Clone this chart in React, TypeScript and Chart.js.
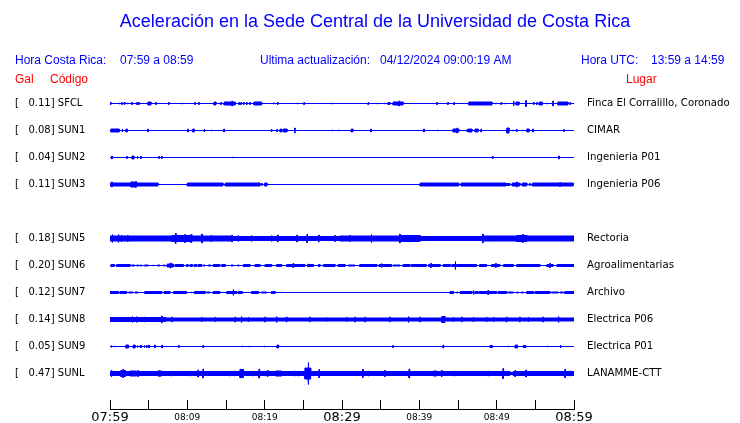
import React, { useEffect, useRef } from 'react';
import { Chart, registerables } from 'chart.js';

Chart.register(...registerables);

// ---------- texts ----------
const TITLE = 'Aceleración en la Sede Central de la Universidad de Costa Rica';
const HORA_CR = ['Hora Costa Rica:', '07:59 a 08:59'];
const ACTUALIZACION = ['Ultima actualización:', '04/12/2024 09:00:19 AM'];
const HORA_UTC = ['Hora UTC:', '13:59 a 14:59'];
const COL_HEADERS = ['Gal', 'Código', 'Lugar'];

// ---------- stations ----------
const STATIONS = ['SFCL', 'SUN1', 'SUN2', 'SUN3', 'SUN5', 'SUN6', 'SUN7', 'SUN8', 'SUN9', 'SUNL'];
const SLOTS = [0, 1, 2, 3, 5, 6, 7, 8, 9, 10];
const PEAK_GAL = [0.11, 0.08, 0.04, 0.11, 0.18, 0.2, 0.12, 0.14, 0.05, 0.47];
const PLACES = [
  'Finca El Corralillo, Coronado',
  'CIMAR',
  'Ingenieria P01',
  'Ingenieria P06',
  'Rectoria',
  'Agroalimentarias',
  'Archivo',
  'Electrica P06',
  'Electrica P01',
  'LANAMME-CTT',
];

// ---------- time axis (minutes after 07:59) ----------
const X_TICKS = [0, 5, 10, 15, 20, 25, 30, 35, 40, 45, 50, 55, 60];
const X_TICK_LABELS = ['07:59', '', '08:09', '', '08:19', '', '08:29', '', '08:39', '', '08:49', '', '08:59'];
const MAJOR_TICKS = [0, 30, 60];

// ---------- trace envelopes: [t, amp] spike or [t0, t1, amp] burst ----------
const SFCL_BURSTS = [
  [0.1, 1.5], [1.2, 1], [1.55, 1.5], [1.9, 1.5], [2.3, 1], [2.85, 1.5], [3.5, 1.5], [3.75, 1.5],
  [4.9, 5.3, 2], [5.95, 1.5], [7.6, 1.5], [9.3, 1], [10.0, 1], [11.0, 1.5], [11.5, 1.5],
  [13.45, 13.7, 2], [14.35, 1.5], [14.75, 16.2, 2], [15.8, 3], [16.7, 1.5], [16.95, 1.5],
  [17.3, 1.5], [17.7, 1.5], [18.1, 1.5], [18.6, 19.6, 2], [21.1, 1], [21.35, 1], [21.7, 1.5],
  [24.3, 1], [25.1, 1.5], [28.7, 1],
  [33.4, 1.5], [34.65, 1], [35.55, 1], [35.95, 36.2, 1.5], [36.6, 37.9, 2], [37.4, 3],
  [42.3, 1.5], [43.7, 1.5], [44.5, 1.5], [46.4, 49.4, 2], [49.9, 1], [50.6, 1.5], [51.1, 1],
  [52.2, 3], [52.5, 52.9, 2], [53.8, 3.5], [54.8, 1.5], [55.2, 1.5], [55.5, 55.9, 2], [56.5, 1],
  [57.3, 3], [57.9, 59.2, 2], [59.5, 1.5],
];
const SUN1_BURSTS = [
  [0.1, 1.2, 2], [1.6, 2], [2.1, 2], [2.2, 2], [4.9, 2], [10.1, 2], [10.7, 10.9, 2], [12.2, 2],
  [13.1, 1], [14.75, 2], [19.7, 1], [20.9, 2], [21.6, 1.5], [22.0, 22.2, 2], [22.4, 22.9, 2],
  [23.9, 3], [28.8, 1], [29.6, 1],
  [31.2, 31.4, 2], [33.75, 2], [40.6, 2], [42.4, 1], [44.35, 45.1, 2], [44.9, 3], [46.2, 1.5],
  [46.3, 46.8, 2], [47.2, 47.6, 2], [48.0, 2], [51.3, 51.6, 3], [52.1, 1], [52.6, 1.5],
  [53.4, 1], [53.9, 54.2, 2], [54.7, 2], [58.7, 1.5],
];
const SUN2_BURSTS = [
  [0.25, 2], [2.2, 1.5], [2.85, 3.1, 2], [3.5, 3.6, 2], [4.0, 1.5], [6.35, 1.5], [6.7, 1.5],
  [15.9, 1], [49.5, 1.5], [58.0, 58.1, 2],
];
const SUN3_BURSTS = [
  [0, 6.2, 2], [0.25, 3], [2.7, 3.2, 3], [3.35, 3.5], [10.0, 14.6, 2], [14.9, 19.4, 2],
  [19.65, 1.5], [20.0, 20.3, 2], [40.1, 45.1, 2], [45.4, 51.2, 2], [51.3, 51.7, 1.5],
  [52.0, 53.0, 2], [52.6, 3], [53.3, 53.9, 2], [54.3, 1.5], [54.6, 59.9, 2], [58.2, 2.5],
];
const SUN5_BURSTS = [
  [0, 7.1, 3], [0.3, 4.5], [1.1, 4.5], [1.5, 4], [2.3, 3.5], [7.1, 8.0, 3], [8.0, 10.6, 3.5],
  [8.5, 5.5], [9.7, 4.5], [10.5, 4.5], [10.6, 15.8, 3], [11.9, 5], [13.1, 3.5], [15.8, 4],
  [15.8, 29.7, 2.5], [16.6, 3.5], [18.3, 3.5], [20.9, 3.5], [21.7, 4], [24.2, 4], [25.5, 4.5],
  [27.0, 4], [29.1, 3.5],
  [29.7, 37.5, 3], [31.0, 3.5], [33.8, 4.5], [37.5, 5], [37.5, 40.1, 3.5], [38.8, 4],
  [40.1, 48.2, 2.5], [48.2, 5], [48.2, 52.6, 3], [52.6, 53.9, 3.5], [53.4, 4.5], [53.9, 60, 3],
];
const SUN6_BURSTS = [
  [0.13, 0.56, 1.5], [0.86, 2.6, 1.5], [2.8, 3.2, 1], [3.45, 3.7, 1], [3.9, 4.1, 1],
  [4.45, 4.95, 1], [5.6, 1], [6.15, 6.45, 1], [6.9, 7.1, 1], [7.4, 8.2, 2], [7.85, 3],
  [8.4, 9.5, 1.5], [9.9, 10.1, 1.5], [10.35, 10.65, 1.5], [10.9, 11.2, 1.5], [11.4, 11.85, 1.5],
  [12.05, 12.3, 1], [12.7, 13.05, 1], [13.35, 14.2, 1.5], [14.45, 14.9, 1.5], [15.65, 15.95, 1],
  [16.5, 16.7, 1], [17.25, 18.1, 1.5], [18.75, 19.4, 1.5], [20.05, 20.9, 1.5], [21.55, 22.2, 1.5],
  [22.85, 25.2, 1.5], [23.7, 2.5], [25.6, 2], [25.65, 26.3, 1.5], [26.95, 27.15, 1.5],
  [27.6, 29.1, 1.5], [29.5, 30.4, 1.5],
  [30.8, 31.7, 1], [32.3, 34.5, 1.5], [34.8, 36.4, 1.5], [35.1, 2.5], [36.6, 37.5, 1],
  [37.9, 38.8, 1.5], [39.0, 40.9, 1.5], [41.2, 42.7, 1.5], [41.5, 2.5], [43.1, 44.0, 1.5],
  [44.2, 44.6, 1.5], [44.66, 4.5], [44.8, 47.4, 1.5], [47.8, 48.7, 1.5], [49.35, 50.4, 1.5],
  [49.9, 2.5], [50.9, 52.15, 1.5], [52.6, 55.6, 1.5], [56.5, 57.3, 1.5], [56.9, 2.5],
  [57.8, 60, 1.5], [59.05, 2],
];
const SUN7_BURSTS = [
  [0, 1.1, 1.5], [1.3, 2.15, 1.5], [2.4, 3.0, 1], [3.25, 3.65, 1], [4.5, 6.7, 1.5],
  [7.0, 7.75, 1.5], [8.2, 9.9, 1.5], [10.5, 1], [10.9, 12.3, 1.5], [12.5, 12.95, 1],
  [13.35, 14.2, 1.5], [15.1, 16.4, 1.5], [15.95, 3.5], [16.6, 17.1, 1.5], [18.3, 19.2, 1.5],
  [19.6, 20.25, 1], [20.9, 21.35, 1.5],
  [43.96, 44.4, 1.5], [44.8, 45.0, 1], [45.3, 46.8, 1.5], [47.0, 2.5], [47.2, 47.6, 1.5],
  [47.75, 50.0, 1.5], [48.9, 2.5], [49.6, 2], [50.2, 51.3, 1.5], [51.5, 52.2, 1],
  [52.6, 52.8, 1], [53.2, 53.45, 1], [53.9, 54.74, 1.5], [54.95, 56.9, 1.5], [57.1, 58.0, 1],
  [58.2, 58.6, 1], [58.8, 60, 1.5],
];
const SUN8_BURSTS = [
  [0, 7.2, 2.5], [7.2, 60, 2], [0.45, 3], [2.9, 3.5], [3.45, 3.5], [4.5, 3], [5.8, 3], [6.7, 4],
  [8.0, 3], [11.85, 3], [13.6, 2.5], [16.2, 3], [17.0, 3.5], [17.9, 3], [20.05, 3], [21.55, 3.5],
  [22.85, 3], [25.85, 3], [28.0, 2.5],
  [30.6, 3], [31.7, 3], [33.0, 3], [36.2, 3], [38.6, 3.5], [40.1, 3], [42.9, 43.3, 3.5],
  [44.4, 3], [45.5, 3], [47.0, 3], [48.7, 3], [49.6, 3], [51.3, 3], [53.0, 3], [54.1, 3],
  [56.0, 3], [58.0, 3.5],
];
const SUN9_BURSTS = [
  [0.2, 1.5], [0.65, 1], [0.95, 1], [2.05, 2.4, 2], [3.0, 3.25, 2], [3.55, 1.5], [3.9, 4.1, 1.5],
  [4.45, 1.5], [4.75, 1.5], [5.05, 2], [5.8, 2], [6.4, 1], [6.75, 2], [7.55, 1], [8.9, 1.5],
  [12.05, 1.5], [17.1, 1], [18.0, 1], [19.2, 1], [19.95, 1], [21.6, 21.8, 2], [36.6, 1.5],
  [43.1, 2], [45.7, 1], [49.15, 49.45, 1.5], [51.5, 1], [52.4, 52.7, 2], [53.45, 53.75, 1.5],
  [56.6, 1], [58.2, 58.3, 2],
];
const SUNL_BURSTS = [
  [0, 51.7, 2.5], [51.7, 52.15, 1.5], [52.15, 60, 2.5], [0.2, 4], [1.4, 2.0, 3.5], [1.7, 4.5],
  [2.6, 3.45, 3], [3.65, 3.5], [6.15, 6.7, 3], [6.4, 3.5], [7.9, 3], [9.25, 3], [10.35, 3],
  [10.8, 3], [11.4, 4], [12.05, 5], [15.5, 3], [16.15, 3], [16.8, 17.25, 4.5], [16.95, 5],
  [18.5, 3], [19.3, 5], [20.05, 3], [20.4, 3.5], [21.4, 22.2, 3], [23.9, 3], [24.35, 3],
  [25.2, 25.95, 6], [25.65, 11.5], [27.05, 4.5], [32.7, 4.5], [33.4, 3], [35.55, 3.5],
  [38.7, 5], [40.3, 3], [41.8, 42.25, 3], [42.9, 3.5], [43.75, 3], [44.5, 3], [46.35, 3],
  [48.9, 3], [50.85, 5.5], [52.4, 3.5], [53.8, 4], [55.4, 3], [57.1, 3], [58.85, 4.5], [59.5, 3],
];
const TRACES = [
  SFCL_BURSTS, SUN1_BURSTS, SUN2_BURSTS, SUN3_BURSTS, SUN5_BURSTS,
  SUN6_BURSTS, SUN7_BURSTS, SUN8_BURSTS, SUN9_BURSTS, SUNL_BURSTS,
];

// ---------- styling ----------
const BLUE = '#0000ff';
const RED = '#ff0000';
const SPIKE_WIDTH = 0.08; // minutes
const AMP_UNIT = 1 / 27; // slot units per amplitude unit
const STROKE_COMP = 0.5; // outline stroke adds half a unit on each side
const T_MIN = 0;
const T_MAX = 60;

function envelope(bursts: number[][]): { t: number; a: number }[] {
  const items = bursts.map((b) =>
    b.length === 2
      ? { t0: b[0] - SPIKE_WIDTH / 2, t1: b[0] + SPIKE_WIDTH / 2, a: b[1] }
      : { t0: b[0], t1: b[1], a: b[2] }
  );
  const edges = Array.from(
    new Set([T_MIN, T_MAX, ...items.flatMap((i) => [Math.max(T_MIN, i.t0), Math.min(T_MAX, i.t1)])])
  ).sort((p, q) => p - q);
  const pts: { t: number; a: number }[] = [];
  for (let i = 0; i < edges.length - 1; i++) {
    const mid = (edges[i] + edges[i + 1]) / 2;
    let a = 0;
    for (const it of items) if (it.t0 <= mid && mid < it.t1 && it.a > a) a = it.a;
    pts.push({ t: edges[i], a }, { t: edges[i + 1], a });
  }
  return pts;
}

function offset(a: number) {
  return Math.max(0, a - STROKE_COMP) * AMP_UNIT;
}

function buildDatasets() {
  const ds: any[] = [];
  TRACES.forEach((bursts, i) => {
    const slot = SLOTS[i];
    const env = envelope(bursts);
    ds.push({
      data: [{ x: T_MIN, y: slot }, { x: T_MAX, y: slot }],
      borderColor: BLUE,
      borderWidth: 1,
      pointRadius: 0,
      fill: false,
    });
    ds.push({
      data: env.map((p) => ({ x: p.t, y: slot - offset(p.a) })),
      borderColor: BLUE,
      backgroundColor: BLUE,
      borderWidth: 1,
      pointRadius: 0,
      fill: { value: slot },
    });
    ds.push({
      data: env.map((p) => ({ x: p.t, y: slot + offset(p.a) })),
      borderColor: BLUE,
      backgroundColor: BLUE,
      borderWidth: 1,
      pointRadius: 0,
      fill: { value: slot },
    });
  });
  return ds;
}

const headerPlugin = {
  id: 'headerText',
  afterDraw(chart: any) {
    const ctx = chart.ctx;
    ctx.save();
    ctx.textBaseline = 'middle';
    ctx.fillStyle = BLUE;
    ctx.textAlign = 'center';
    ctx.font = '18px "Liberation Sans", Arial, sans-serif';
    ctx.fillText(TITLE, 375, 22);
    ctx.textAlign = 'left';
    ctx.font = '12px "Liberation Sans", Arial, sans-serif';
    ctx.fillText(HORA_CR[0], 15, 61);
    ctx.fillText(HORA_CR[1], 120, 61);
    ctx.fillText(ACTUALIZACION[0], 260, 61);
    ctx.fillText(ACTUALIZACION[1], 380, 61);
    ctx.fillText(HORA_UTC[0], 581, 61);
    ctx.fillText(HORA_UTC[1], 651, 61);
    ctx.fillStyle = RED;
    ctx.fillText(COL_HEADERS[0], 15, 80);
    ctx.fillText(COL_HEADERS[1], 50, 80);
    ctx.fillText(COL_HEADERS[2], 626, 80);
    ctx.restore();
  },
};

const Y_MIN = -0.5;
const Y_MAX = -0.5 + 319 / 27;

function stationLabel(v: number) {
  const i = SLOTS.indexOf(v);
  return i >= 0 ? `[   ${PEAK_GAL[i].toFixed(2)}] ${STATIONS[i]}` : '';
}
function placeLabel(v: number) {
  const i = SLOTS.indexOf(v);
  return i >= 0 ? PLACES[i] : '';
}

export default function App() {
  const ref = useRef<HTMLCanvasElement | null>(null);
  useEffect(() => {
    if (!ref.current) return;
    const chart = new Chart(ref.current, {
      type: 'line',
      data: { datasets: buildDatasets() },
      options: {
        animation: false,
        responsive: false,
        devicePixelRatio: 1,
        events: [],
        layout: { padding: { left: 15, top: 90, right: 0, bottom: 0 } },
        elements: { line: { tension: 0 } },
        plugins: {
          legend: { display: false },
          tooltip: { enabled: false },
          title: { display: false },
        },
        scales: {
          x: {
            type: 'linear',
            min: T_MIN,
            max: T_MAX,
            position: 'bottom',
            afterBuildTicks: (s: any) => {
              s.ticks = X_TICKS.map((v) => ({ value: v }));
            },
            afterFit: (s: any) => {
              s.height = 14;
            },
            ticks: {
              autoSkip: false,
              maxRotation: 0,
              minRotation: 0,
              color: '#000',
              padding: 10,
              callback: (v: any) => {
                const i = X_TICKS.indexOf(Number(v));
                return i >= 0 ? X_TICK_LABELS[i] : '';
              },
              font: (c: any) =>
                c.tick && MAJOR_TICKS.includes(c.tick.value)
                  ? { family: '"DejaVu Sans"', size: 13, lineHeight: '16px' }
                  : { family: '"DejaVu Sans"', size: 9, lineHeight: '16px' },
            },
            grid: { drawOnChartArea: false, tickLength: -9, color: '#000', lineWidth: 1 },
            border: { display: true, color: '#000', width: 1 },
          },
          y: {
            type: 'linear',
            reverse: true,
            min: Y_MIN,
            max: Y_MAX,
            position: 'left',
            afterBuildTicks: (s: any) => {
              s.ticks = SLOTS.map((v) => ({ value: v }));
            },
            afterFit: (s: any) => {
              s.width = 95;
            },
            ticks: {
              autoSkip: false,
              crossAlign: 'far',
              padding: 0,
              color: '#000',
              font: { family: '"DejaVu Sans"', size: 10 },
              callback: (v: any) => stationLabel(Number(v)),
            },
            grid: { display: false, drawTicks: false },
            border: { display: false },
          },
          yR: {
            type: 'linear',
            reverse: true,
            min: Y_MIN,
            max: Y_MAX,
            position: 'right',
            afterBuildTicks: (s: any) => {
              s.ticks = SLOTS.map((v) => ({ value: v }));
            },
            afterFit: (s: any) => {
              s.width = 166;
            },
            ticks: {
              autoSkip: false,
              padding: 0,
              color: '#000',
              font: { family: '"DejaVu Sans"', size: 10.2 },
              callback: (v: any) => placeLabel(Number(v)),
            },
            grid: { display: false, drawTicks: true, tickLength: 13 },
            border: { display: false },
          },
        },
      } as any,
      plugins: [headerPlugin],
    });
    return () => chart.destroy();
  }, []);
  return (
    <div style={{ position: 'absolute', left: 0, top: 0, width: 740, height: 423, background: '#fff' }}>
      <canvas ref={ref} width={740} height={423} style={{ display: 'block', width: 740, height: 423 }} />
    </div>
  );
}
